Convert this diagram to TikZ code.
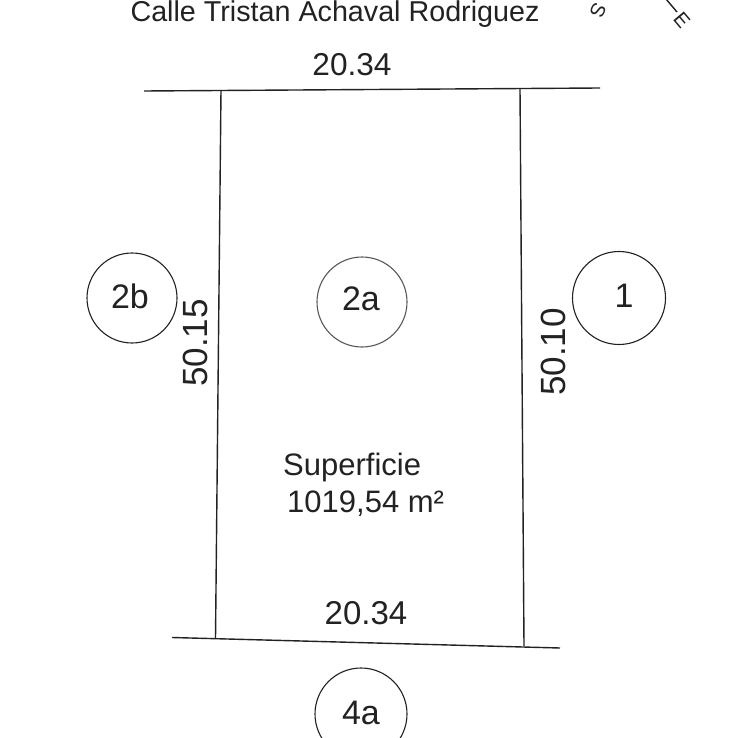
\documentclass[tikz,border=0pt]{standalone}
\usepackage{fontspec}
\setmainfont{Liberation Sans}
\definecolor{ink}{HTML}{222222}
\tikzset{
  plotline/.style={draw=ink,line width=1.4pt},
  lotcircle/.style={circle,draw=ink,line width=1.1pt,minimum size=#1,inner sep=0pt},
  lotname/.style={text=ink,inner sep=0pt,font=\fontsize{34}{38}\selectfont},
  lbl/.style={text=ink,inner sep=0pt,font=\fontsize{31.6}{36}\selectfont},
}
\begin{document}
\begin{tikzpicture}[x=1pt,y=-1pt]
\path[use as bounding box] (0,0) rectangle (741,738);
\clip (0,0) rectangle (741,738);
\fill[white] (0,0) rectangle (741,738);
% corner points
\coordinate (tl) at (221,90);
\coordinate (tr) at (520,89);
\coordinate (bl) at (215.5,638.5);
\coordinate (br) at (524,646);
\coordinate (topL) at (144,91);
\coordinate (topR) at (600,88);
\coordinate (botL) at (172,637.5);
\coordinate (botR) at (560,648);
\draw[plotline] (topL) -- (topR);
\draw[plotline] (botL) -- (botR);
\draw[plotline] (tl) -- (bl);
\draw[plotline] (tr) -- (br);
% title and labels
\node[lbl,font=\fontsize{28.7}{32}\selectfont,anchor=base] (title) at (335,21.5) {Calle Tristan Achaval Rodriguez};
\node[lbl] (topdim) at (352,65) {20.34};
\node[lbl,font=\fontsize{33}{36}\selectfont] (botdim) at (366,613) {20.34};
\node[lbl,rotate=90,font=\fontsize{35}{38}\selectfont] (leftdim) at (195,343) {50.15};
\node[lbl,rotate=90,font=\fontsize{35}{38}\selectfont] (rightdim) at (553,352) {50.10};
\node[lbl,font=\fontsize{31}{34}\selectfont,anchor=west] (sup1) at (283,467) {Superficie};
\node[lbl,font=\fontsize{31}{34}\selectfont,anchor=west] (sup2) at (287,504) {1019,54 m²};
% circles
\node[lotcircle=90pt] (c2b) at (132,298) {};
\node[lotname] (n2b) at (130,296) {2b};
\node[lotcircle=90pt,draw=ink!75] (c2a) at (362,302) {};
\node[lotname] (n2a) at (361,299) {2a};
\node[lotcircle=93pt] (c1) at (619,298) {};
\node[lotname] (n1) at (624,296) {1};
\node[lotcircle=92pt] (c4a) at (361,714) {};
\node[lotname] (n4a) at (361,713) {4a};
% compass
\coordinate (nA) at (666,-1);
\coordinate (nB) at (677,12);
\draw[plotline] (nA) -- (nB);
\node[text=ink,inner sep=0pt,rotate=-50,font=\fontsize{20}{22}\selectfont] (east) at (682,20) {E};
\node[text=ink,inner sep=0pt,rotate=-115,font=\fontsize{20}{22}\selectfont] (south) at (598,10) {S};
\end{tikzpicture}
\end{document}
